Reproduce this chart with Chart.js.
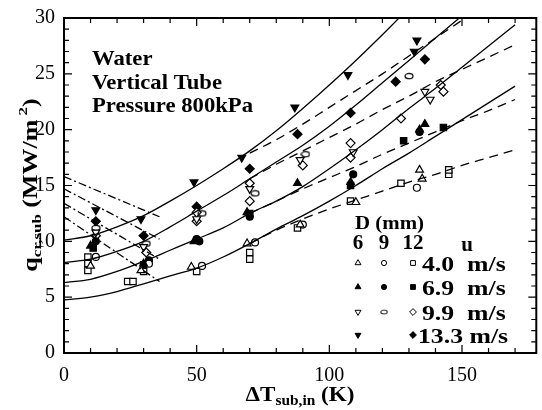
<!DOCTYPE html>
<html>
<head>
<meta charset="utf-8">
<script src="https://cdn.jsdelivr.net/npm/chart.js@4"></script>
<style>
html, body { margin: 0; padding: 0; background: #fff; }
</style>
</head>
<body>
<canvas id="myChart" width="542" height="410"></canvas>
<script>
// AXES
const xMax = 178;
const yMax = 30;
const xTickValues = [0, 50, 100, 150];
const yTickValues = [0, 5, 10, 15, 20, 25, 30];

// CORRELATION CURVES
const solidX = [0, 10, 20, 30, 40, 50, 60, 70, 80, 90, 100, 110, 120, 130, 140, 150, 160, 170];
const solid1 = [4.75, 5.0, 5.5, 6.2, 6.9, 7.6, 8.6, 9.8, 11.1, 12.3, 13.6, 15.0, 16.5, 17.9, 19.4, 20.9, 22.4, 23.9];
const solid2 = [6.3, 6.6, 7.3, 8.2, 9.2, 10.2, 11.2, 12.5, 13.6, 14.9, 16.5, 18.2, 20.0, 21.9, 23.7, 25.6, 27.5, 29.4];
const solid3 = [8.1, 8.4, 9.1, 10.0, 11.3, 12.7, 14.1, 15.6, 17.1, 18.6, 20.3, 22.2, 24.2, 26.2, 28.2, 30.2, 32.2, 34.2];
const solid4 = [10.1, 10.5, 11.3, 12.3, 13.6, 15.0, 16.5, 18.1, 19.9, 21.9, 24.0, 26.2, 28.5, 30.9, 33.3, 35.7, 38.1, 40.5];

const dashX = [70, 80, 90, 100, 110, 120, 130, 140, 150, 160, 170];
const dash1 = [9.8, 11.0, 12.0, 12.9, 13.7, 14.5, 15.3, 16.0, 16.8, 17.5, 18.2];
const dash2 = [12.5, 13.6, 14.7, 15.7, 16.7, 17.8, 18.8, 19.8, 20.8, 21.7, 22.7];
const dash3 = [15.6, 16.9, 18.1, 19.3, 20.5, 21.8, 23.0, 24.3, 25.4, 26.5, 27.6];
const dash4 = [17.9, 19.1, 20.5, 22.0, 23.5, 25.0, 26.6, 28.2, 29.8, 31.4, 33.0];

const chainX = [0, 36];
const chain1 = [12.2, 6.4];
const chain2 = [13.4, 8.4];
const chain3 = [14.7, 10.2];
const chain4 = [15.8, 12.2];

// MEASURED POINTS [dT, q]
const d6u40 = [[10, 7.8], [29, 7.4], [48, 7.7], [69, 9.8], [89, 11.5], [110, 13.5], [134, 16.4], [135, 15.6]];
const d6u69 = [[10, 9.6], [30, 8.0], [49, 10.0], [69, 12.6], [88, 15.2], [108, 15.3], [134, 20.0], [136, 20.5]];
const d6u99 = [[12, 10.8], [30, 9.5], [50, 12.0], [70, 14.7], [89, 17.3], [109, 18.0], [136, 23.4], [138, 22.7]];
const d6u133 = [[12, 12.8], [29, 12.0], [49, 15.3], [67, 17.5], [87, 22.0], [107, 24.9], [132, 27.0], [133, 28.0]];

const d9u40 = [[12, 8.6], [32, 8.0], [52, 7.8], [72, 9.9], [90, 11.5], [133, 14.8]];
const d9u69 = [[12, 10.0], [32, 8.3], [50, 10.2], [51, 10.0], [70, 12.2], [109, 16.0], [134, 19.8]];
const d9u99 = [[12, 11.2], [31, 9.8], [52, 12.5], [72, 14.3], [91, 17.8], [130, 24.8]];

const d12u40 = [[9, 8.6], [9, 8.0], [9, 7.4], [24, 6.4], [26, 6.4], [30, 7.3], [50, 7.3], [70, 9.0], [70, 8.4], [88, 11.2], [108, 13.6], [127, 15.2], [145, 16.0], [145, 16.4]];
const d12u69 = [[11, 9.4], [30, 7.9], [70, 12.5], [108, 15.0], [128, 19.0], [143, 20.2]];
const d12u99 = [[12, 10.5], [31, 9.0], [50, 11.8], [50, 12.6], [70, 13.6], [70, 15.2], [90, 16.8], [108, 17.5], [108, 18.8], [127, 21.0], [142, 24.0], [143, 23.4]];
const d12u133 = [[12, 11.8], [30, 10.5], [50, 13.1], [70, 16.5], [88, 19.6], [108, 21.5], [125, 24.3], [136, 26.3]];

// LEGEND TEXT
const diamLabels = ['6', '9', '12'];
const speedLabels = ['4.0  m/s', '6.9  m/s', '9.9  m/s', '13.3 m/s'];
const noteLines = ['Water', 'Vertical Tube', 'Pressure 800kPa'];

const serif = '"Liberation Serif", "DejaVu Serif", serif';

// small open oval used for D = 9 mm, 9.9 m/s
function ovalStyle() {
    const c = document.createElement('canvas');
    c.width = 10; c.height = 8;
    const g = c.getContext('2d');
    g.strokeStyle = '#000';
    g.lineWidth = 1.2;
    g.beginPath();
    g.ellipse(5, 4, 4, 2.6, 0, 0, Math.PI * 2);
    g.stroke();
    return c;
}
const oval = ovalStyle();

function toXY(xs, ys) { return xs.map((v, i) => ({x: v, y: ys[i]})); }
function pts(arr) { return arr.map(p => ({x: p[0], y: p[1]})); }

function curve(xs, ys, dash) {
    return {
        type: 'line',
        data: toXY(xs, ys),
        borderColor: '#000',
        borderWidth: 1.3,
        borderDash: dash,
        pointRadius: 0,
        cubicInterpolationMode: 'monotone',
        fill: false
    };
}

function marks(arr, style, filled, rot) {
    return {
        type: 'scatter',
        data: pts(arr),
        pointStyle: style,
        rotation: rot || 0,
        pointRadius: style === 'circle' ? 3.5 : 4.5,
        pointBorderWidth: 1.2,
        borderColor: '#000',
        backgroundColor: filled ? '#000' : '#fff'
    };
}

// text stretched sideways like the scanned original
function textWidth(ctx, text, font, sx) {
    ctx.font = font;
    return ctx.measureText(text).width * sx;
}
function wideText(ctx, text, x, y, font, sx) {
    const w = textWidth(ctx, text, font, sx);
    ctx.save();
    ctx.font = font;
    ctx.translate(x, y);
    ctx.scale(sx, 1);
    ctx.fillText(text, 0, 0);
    ctx.restore();
    return w;
}

const legendMarks = [
    [['triangle', false, 0], ['circle', false, 0], ['rect', false, 0]],
    [['triangle', true, 0], ['circle', true, 0], ['rect', true, 0]],
    [['triangle', false, 180], ['oval', false, 0], ['rectRot', false, 0]],
    [['triangle', true, 180], null, ['rectRot', true, 0]]
];

// frame, inward ticks and all the text
const decor = {
    id: 'decor',
    afterDraw(chart) {
        const {ctx, chartArea: a, scales: {x, y}} = chart;
        ctx.save();
        ctx.strokeStyle = '#000';
        ctx.fillStyle = '#000';
        ctx.textAlign = 'left';
        ctx.textBaseline = 'alphabetic';

        // ticks
        ctx.lineWidth = 1.2;
        ctx.beginPath();
        for (let v = 10; v < xMax; v += 10) {
            const px = x.getPixelForValue(v);
            const len = v % 50 === 0 ? 8 : 5;
            ctx.moveTo(px, a.bottom); ctx.lineTo(px, a.bottom - len);
            ctx.moveTo(px, a.top); ctx.lineTo(px, a.top + len);
        }
        for (let v = 1; v < yMax; v += 1) {
            const py = y.getPixelForValue(v);
            const len = v % 5 === 0 ? 8 : 5;
            ctx.moveTo(a.left, py); ctx.lineTo(a.left + len, py);
            ctx.moveTo(a.right, py); ctx.lineTo(a.right - len, py);
        }
        ctx.stroke();

        // frame
        ctx.lineWidth = 2;
        ctx.strokeRect(a.left, a.top, a.right - a.left, a.bottom - a.top);

        // note in top-left
        const noteFont = 'bold 21px ' + serif;
        noteLines.forEach((t, i) => wideText(ctx, t, 92, 65 + i * 23.5, noteFont, 1.08));

        // x title
        const big = 'bold 21px ' + serif, small = 'bold 14px ' + serif;
        const k = 1.1;
        const w1 = textWidth(ctx, '\u0394T', big, k);
        const w2 = textWidth(ctx, 'sub,in', small, k);
        const w3 = textWidth(ctx, ' (K)', big, k);
        let sx = 300 - (w1 + w2 + w3) / 2;
        sx += wideText(ctx, '\u0394T', sx, 401, big, k);
        sx += wideText(ctx, 'sub,in', sx, 405, small, k);
        wideText(ctx, ' (K)', sx, 401, big, k);

        // y title
        ctx.save();
        ctx.translate(37, 185);
        ctx.rotate(-Math.PI / 2);
        const ky = 1.3;
        const yBig = 'bold 20px ' + serif, ySmall = 'bold 13px ' + serif;
        const parts = [['q', yBig, 0], ['cr,sub', ySmall, 4], [' (MW/m', yBig, 0], [' 2', ySmall, -10], [')', yBig, 0]];
        const total = parts.reduce((s, p) => s + textWidth(ctx, p[0], p[1], ky), 0);
        let ty = -total / 2;
        parts.forEach(p => { ty += wideText(ctx, p[0], ty, p[2], p[1], ky); });
        ctx.restore();

        // legend table
        wideText(ctx, 'D (mm)', 355, 229, 'bold 19px ' + serif, 1.1);
        ctx.textAlign = 'center';
        const colX = [358, 384, 413];
        ctx.font = 'bold 21px ' + serif;
        diamLabels.forEach((t, i) => ctx.fillText(t, colX[i], 249));
        ctx.fillText('u', 467, 251);
        ctx.textAlign = 'left';
        const rowY = [263, 287, 312, 335];
        speedLabels.forEach((t, i) => wideText(ctx, t, i === 3 ? 418 : 422, rowY[i] + 8, 'bold 22px ' + serif, 1.17));
        ctx.lineWidth = 1;
        legendMarks.forEach((row, r) => {
            row.forEach((m, c) => {
                if (!m) return;
                const px = colX[c], py = rowY[r];
                if (m[0] === 'oval') {
                    ctx.drawImage(oval, px - 4, py - 3, 8, 6);
                    return;
                }
                ctx.fillStyle = m[1] ? '#000' : '#fff';
                Chart.helpers.drawPoint(ctx, {
                    pointStyle: m[0],
                    rotation: m[2],
                    radius: m[0] === 'circle' ? 2.6 : 3.4,
                    borderWidth: 1
                }, px, py);
            });
        });
        ctx.restore();
    }
};

const tickFont = {family: serif, size: 20};

new Chart(document.getElementById('myChart'), {
    data: {
        datasets: [
            curve(solidX, solid1, []),
            curve(solidX, solid2, []),
            curve(solidX, solid3, []),
            curve(solidX, solid4, []),
            curve(dashX, dash1, [9, 6]),
            curve(dashX, dash2, [9, 6]),
            curve(dashX, dash3, [9, 6]),
            curve(dashX, dash4, [9, 6]),
            curve(chainX, chain1, [8, 3, 2, 3]),
            curve(chainX, chain2, [8, 3, 2, 3]),
            curve(chainX, chain3, [8, 3, 2, 3]),
            curve(chainX, chain4, [8, 3, 2, 3]),
            marks(d6u40, 'triangle', false),
            marks(d6u69, 'triangle', true),
            marks(d6u99, 'triangle', false, 180),
            marks(d6u133, 'triangle', true, 180),
            marks(d9u40, 'circle', false),
            marks(d9u69, 'circle', true),
            marks(d9u99, oval, false),
            marks(d12u40, 'rect', false),
            marks(d12u69, 'rect', true),
            marks(d12u99, 'rectRot', false),
            marks(d12u133, 'rectRot', true)
        ]
    },
    options: {
        responsive: false,
        animation: false,
        devicePixelRatio: 1,
        layout: {padding: {top: 18, right: 3, left: 0, bottom: 0}},
        plugins: {legend: {display: false}, tooltip: {enabled: false}},
        scales: {
            x: {
                type: 'linear',
                min: 0,
                max: xMax,
                grid: {display: false},
                border: {display: false},
                afterBuildTicks: s => { s.ticks = xTickValues.map(v => ({value: v})); },
                afterFit: s => { s.height = 57; },
                ticks: {color: '#000', font: tickFont, padding: 3, maxRotation: 0}
            },
            y: {
                type: 'linear',
                min: 0,
                max: yMax,
                grid: {display: false},
                border: {display: false},
                afterBuildTicks: s => { s.ticks = yTickValues.map(v => ({value: v})); },
                afterFit: s => { s.width = 64; },
                ticks: {color: '#000', font: tickFont, padding: 1}
            }
        }
    },
    plugins: [decor]
});
</script>
</body>
</html>
